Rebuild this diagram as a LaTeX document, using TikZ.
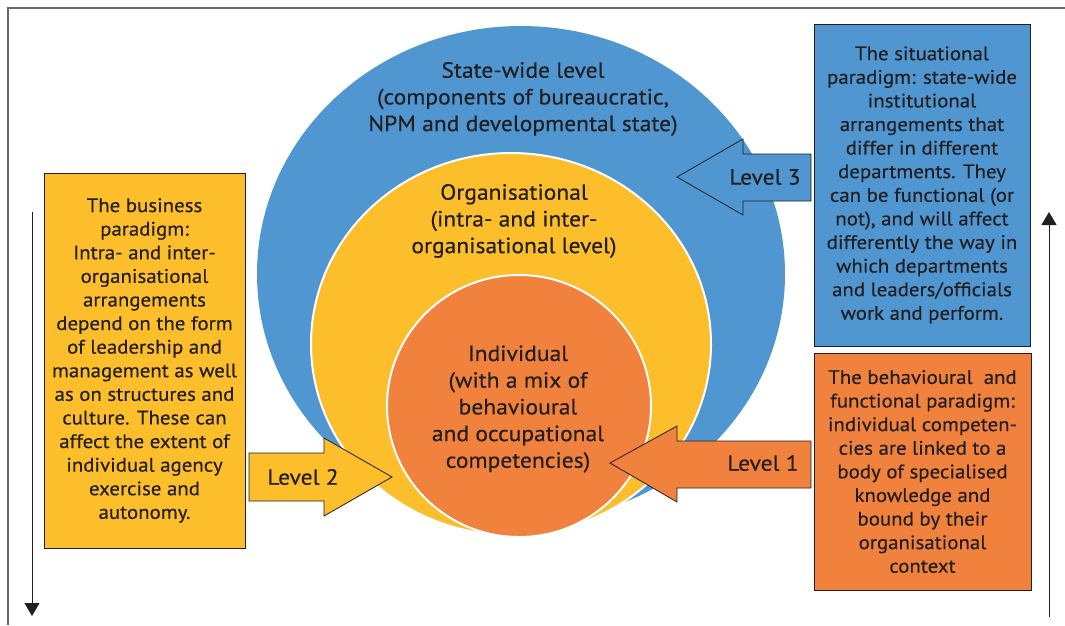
\documentclass[tikz,border=0pt]{standalone}
\usepackage{fontspec}
\setmainfont{PT Sans}[FakeStretch=1.07,FakeBold=0.4]
\usepackage{xcolor}
\usetikzlibrary{shapes.geometric,arrows.meta}

\definecolor{stateblue}{RGB}{80,151,209}
\definecolor{orgyellow}{RGB}{252,190,42}
\definecolor{indorange}{RGB}{240,130,62}
\definecolor{inkgrey}{RGB}{35,31,32}
\definecolor{framegrey}{RGB}{105,105,105}

\tikzset{
    ring/.style={ellipse, inner sep=0pt},
    ringtext/.style={align=center, text=inkgrey, font=\fontsize{22}{26.7}\selectfont},
    paradigm/.style={draw=inkgrey, line width=0.9pt, align=center, inner sep=0pt,
        text=inkgrey, font=\fontsize{19.5}{23.6}\selectfont},
    levelarrow/.style={draw=inkgrey, line width=0.8pt},
    leveltext/.style={text=inkgrey, font=\fontsize{22}{26}\selectfont},
    sidearrow/.style={line width=1pt, draw=inkgrey, -{Triangle[width=15pt,length=13pt]}}
}

\begin{document}
\begin{tikzpicture}[x=1pt,y=-1pt]
        \useasboundingbox (0,0) rectangle (1065,625);
        \draw[framegrey, line width=1.3pt] (8,625) -- (8,8) -- (1065,8);

        % the three levels
        \node[ring, fill=stateblue, minimum width=528pt, minimum height=496pt] (state) at (521,274) {};
        \node[ring, fill=orgyellow, draw=white, line width=2pt, minimum width=400pt, minimum height=382pt] (org) at (511,344) {};
        \node[ring, fill=indorange, draw=white, line width=2pt, minimum width=264pt, minimum height=262pt] (indiv) at (519,406) {};

        \node[ringtext] (statetext) at (523,99) {State-wide level\\(components of bureaucratic,\\NPM and developmental state)};
        \node[ringtext] (orgtext) at (514,221) {Organisational\\(intra- and inter-\\organisational level)};
        \node[ringtext] (indivtext) at (518,409) {Individual\\(with a mix of\\behavioural\\and occupational\\competencies)};

        % paradigm boxes
        \node[paradigm, fill=orgyellow, minimum width=201pt, minimum height=375pt] (business) at (144.5,360.5)
            {The business\\paradigm:\\Intra- and inter-\\organisational\\arrangements\\depend on the form\\of leadership and\\management as well\\as on structures and\\culture. These can\\affect the extent of\\individual agency\\exercise and\\autonomy.};
        \node[paradigm, fill=stateblue, minimum width=216pt, minimum height=322pt] (situational) at (922,185)
            {The situational\\paradigm: state-wide\\institutional\\arrangements that\\differ in different\\departments. They\\can be functional (or\\not), and will affect\\differently the way in\\which departments\\and leaders/officials\\work and perform.};
        \node[paradigm, fill=indorange, minimum width=217pt, minimum height=237pt] (behavioural) at (922.5,471.5)
            {The behavioural\ \ and\\functional paradigm:\\individual competen-\\cies are linked to a\\body of specialised\\knowledge and\\bound by their\\organisational\\context};

        % level arrows
        \draw[levelarrow, fill=stateblue] (811,154) -- (743,154) -- (743,139) -- (677,177) -- (743,215) -- (743,201) -- (811,201) -- cycle;
        \node[leveltext] (lvlthree) at (765,177) {Level 3};
        \draw[levelarrow, fill=indorange] (811,441) -- (677,441) -- (677,426) -- (610,463) -- (677,502) -- (677,488) -- (811,488) -- cycle;
        \node[leveltext] (lvlone) at (763,463) {Level 1};
        \draw[levelarrow, fill=orgyellow] (249,453) -- (324,453) -- (324,438) -- (392,477) -- (324,516) -- (324,501) -- (249,501) -- cycle;
        \node[leveltext] (lvltwo) at (303,477) {Level 2};

        % side arrows
        \coordinate (downtop) at (32,212);
        \coordinate (downend) at (32,616);
        \coordinate (upbottom) at (1049,617);
        \coordinate (uptop) at (1049,212);
        \draw[sidearrow] (downtop) -- (downend);
        \draw[sidearrow] (upbottom) -- (uptop);
    \end{tikzpicture}
\end{document}
